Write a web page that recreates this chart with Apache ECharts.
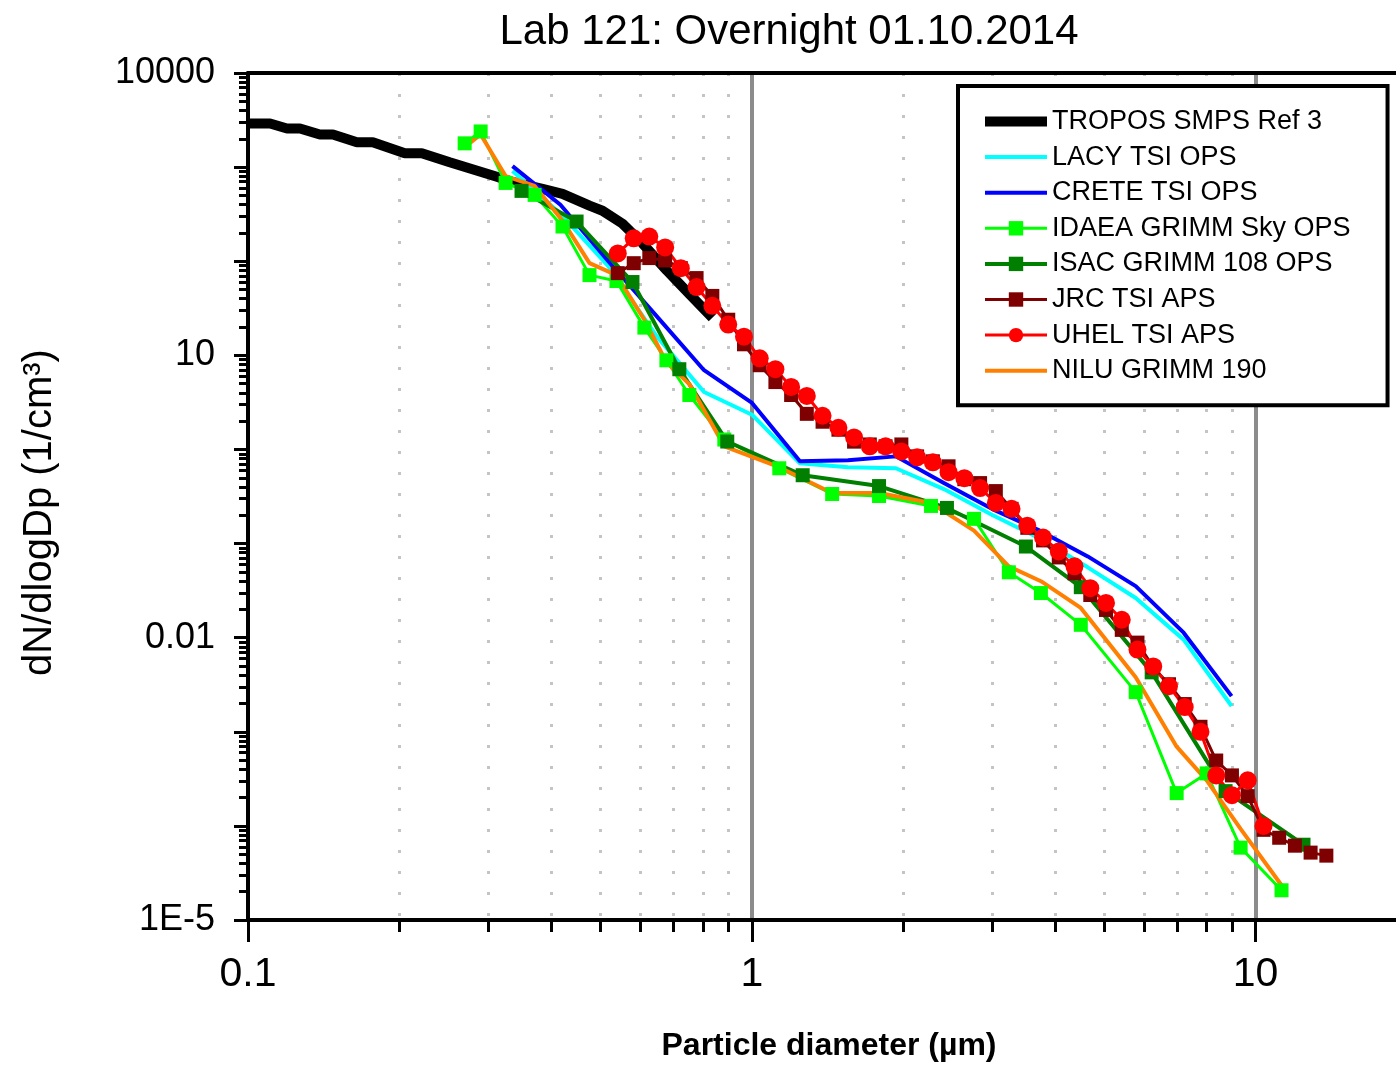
<!DOCTYPE html>
<html>
<head>
<meta charset="utf-8">
<script src="https://cdn.jsdelivr.net/npm/echarts@6/dist/echarts.min.js"></script>
<style>
html,body{margin:0;padding:0;background:#fff;}
#chart{width:1396px;height:1067px;}
</style>
</head>
<body>
<div id="chart"></div>
<script>
// ---- data ----
const seriesNames = ['TROPOS SMPS Ref 3','LACY TSI OPS','CRETE TSI OPS','IDAEA GRIMM Sky OPS','ISAC GRIMM 108 OPS','JRC TSI APS','UHEL TSI APS','NILU GRIMM 190'];

const smpsX = [0.1, 0.1106, 0.1195, 0.1268, 0.1389, 0.1474, 0.1645, 0.1769, 0.2048, 0.2213, 0.2514, 0.3130, 0.3352, 0.3843, 0.4210, 0.4763, 0.5054, 0.5537, 0.6067, 0.6769, 0.7517, 0.8350];
const smpsY = [2904, 2904, 2574, 2574, 2225, 2225, 1834, 1834, 1404, 1404, 1129, 785, 695, 587, 520, 389, 344, 251, 155, 80.4, 44.9, 25.1];

const tsiOpsX = [0.335, 0.417, 0.519, 0.646, 0.804, 1.001, 1.246, 1.552, 1.932, 2.406, 2.996, 3.730, 4.644, 5.782, 7.198, 8.962];
const lacyY  = [908, 320, 88.6, 16.2, 4.08, 2.34, 0.712, 0.647, 0.631, 0.379, 0.202, 0.113, 0.0559, 0.0264, 0.00953, 0.00188];
const creteY = [1024, 398, 100, 26.4, 6.95, 3.12, 0.748, 0.766, 0.844, 0.439, 0.234, 0.137, 0.0730, 0.0353, 0.0113, 0.00239];

const grimmX = [0.2692, 0.2896, 0.3246, 0.3706, 0.4210, 0.4763, 0.5387, 0.6121, 0.6769, 0.7517, 0.8820, 1.134, 1.444, 1.789, 2.269, 2.761, 3.238, 3.749, 4.499, 5.782, 6.972, 7.996, 9.339, 11.26];
const idaeaY = [1789, 2392, 679, 507, 234, 71.2, 61.6, 19.7, 8.86, 3.79, 1.274, 0.631, 0.336, 0.320, 0.251, 0.183, 0.0495, 0.0298, 0.0137, 0.00264, 2.23e-4, 3.61e-4, 5.87e-5, 2.07e-5];
const niluY  = [1623, 2225, 804, 631, 270, 95.3, 71.2, 23.9, 8.44, 4.95, 1.08, 0.647, 0.344, 0.344, 0.270, 0.137, 0.0573, 0.0398, 0.0207, 0.00379, 6.95e-4, 3.05e-4, 9.30e-5, 2.34e-5];

const isacX = [0.3491, 0.4490, 0.5796, 0.7181, 0.8940, 1.262, 1.789, 2.440, 3.500, 4.499, 6.220, 8.719, 12.45];
const isacY = [559, 264, 60.1, 7.12, 1.214, 0.532, 0.408, 0.239, 0.0930, 0.0344, 0.00428, 2.34e-4, 6.31e-5];

const apsX = [0.542, 0.583, 0.626, 0.673, 0.723, 0.777, 0.835, 0.898, 0.965, 1.037, 1.114, 1.197, 1.286, 1.382, 1.486, 1.596, 1.715, 1.843, 1.981, 2.129, 2.288, 2.458, 2.642, 2.839, 3.051, 3.278, 3.523, 3.786, 4.068, 4.371, 4.698, 5.048, 5.425, 5.829, 6.264, 6.732, 7.234, 7.774, 8.354, 8.977, 9.647, 10.37, 11.14, 11.97, 12.86, 13.82];
const jrcY = [74.7, 95.3, 108, 102, 84.4, 66.2, 42.8, 23.9, 13.1, 7.85, 5.20, 3.79, 2.39, 1.97, 1.62, 1.21, 1.13, 1.08, 1.13, 0.844, 0.748, 0.662, 0.483, 0.439, 0.361, 0.234, 0.147, 0.108, 0.0712, 0.0483, 0.0284, 0.0197, 0.0121, 0.00886, 0.00483, 0.00320, 0.00197, 0.00113, 4.95e-4, 3.44e-4, 2.07e-4, 9.08e-5, 7.48e-5, 6.16e-5, 5.20e-5, 4.83e-5];
const uhelY = [121, 175, 183, 140, 84.4, 53.2, 33.6, 21.2, 15.8, 9.30, 7.12, 4.61, 3.70, 2.28, 1.70, 1.34, 1.08, 1.08, 0.953, 0.824, 0.730, 0.573, 0.495, 0.389, 0.270, 0.234, 0.155, 0.116, 0.0824, 0.0573, 0.0336, 0.0234, 0.0155, 0.00748, 0.00495, 0.00305, 0.00183, 0.00100, 3.44e-4, 2.12e-4, 3.05e-4, 1.00e-4];

// axis ticks and labels
const xMajorTicks = [0.1, 1, 10];
const xTickLabels = ['0.1', '1', '10'];
const xMinorTicks = [0.2, 0.3, 0.4, 0.5, 0.6, 0.7, 0.8, 0.9, 2, 3, 4, 5, 6, 7, 8, 9];
const yMajorTicks = [1e-5, 1e-4, 1e-3, 0.01, 0.1, 1, 10, 100, 1000, 10000];
const yLabelValues = [1e-5, 0.01, 10, 10000];
const yTickLabels = ['1E-5', '0.01', '10', '10000'];
const yMinorTicks = [];
[1e-5, 1e-4, 1e-3, 0.01, 0.1, 1, 10, 100, 1000].forEach(d => { for (let k = 2; k <= 9; k++) yMinorTicks.push(+(d * k).toPrecision(3)); });

const zip = (xs, ys) => ys.map((y, i) => [xs[i], y]);
function nearestLabel(v, vals, labels) {
  let best = 0, bd = Infinity;
  vals.forEach((t, i) => { const d = Math.abs(Math.log10(v) - Math.log10(t)); if (d < bd) { bd = d; best = i; } });
  return labels[best];
}

const FONT = 'Liberation Sans, Arial, sans-serif';
const X_MIN = 0.1, X_MAX = 19, Y_MIN = 1e-5, Y_MAX = 1e4;

const chart = echarts.init(document.getElementById('chart'), null, { renderer: 'canvas' });

const styles = [
  { color: '#000000', width: 10 },
  { color: '#00ffff', width: 4 },
  { color: '#0000ff', width: 4 },
  { color: '#00ff00', width: 3, symbol: 'rect', size: 14 },
  { color: '#007f00', width: 4, symbol: 'rect', size: 14 },
  { color: '#7f0000', width: 3, symbol: 'rect', size: 14 },
  { color: '#ff0000', width: 3, symbol: 'circle', size: 18 },
  { color: '#ff7f00', width: 4 }
];
const seriesData = [
  zip(smpsX, smpsY), zip(tsiOpsX, lacyY), zip(tsiOpsX, creteY), zip(grimmX, idaeaY),
  zip(isacX, isacY), zip(apsX, jrcY), zip(apsX, uhelY), zip(grimmX, niluY)
];

const series = seriesNames.map((name, i) => {
  const s = styles[i];
  return {
    name, type: 'line', data: seriesData[i],
    xAxisIndex: 0, yAxisIndex: 0,
    symbol: s.symbol || 'none', symbolSize: s.size || 0,
    showSymbol: !!s.symbol,
    lineStyle: { color: s.color, width: s.width },
    itemStyle: { color: s.color, borderWidth: 0 },
    emphasis: { disabled: true },
    animation: false,
    clip: true
  };
});

const legendData = seriesNames.map((name, i) => {
  const s = styles[i];
  return {
    name,
    lineStyle: { color: s.color, width: s.width },
    itemStyle: s.symbol ? { color: s.color, borderWidth: 0 } : { color: s.color, opacity: 0, borderWidth: 0 }
  };
});

const option = {
  animation: false,
  backgroundColor: '#fff',
  title: {
    text: 'Lab 121: Overnight 01.10.2014',
    left: 784, top: 6, textAlign: 'center',
    textStyle: { fontFamily: FONT, fontSize: 42, fontWeight: 'normal', color: '#000' }
  },
  grid: { left: 248, top: 73, width: 1148, height: 855, containLabel: false },
  legend: {
    data: legendData,
    orient: 'vertical',
    left: 958, top: 86,
    padding: [22, 37, 21, 22],
    itemGap: 8.6,
    itemWidth: 62, itemHeight: 18,
    backgroundColor: '#fff',
    borderColor: '#000', borderWidth: 4, borderRadius: 0,
    selectedMode: false,
    textStyle: { fontFamily: FONT, fontSize: 27, color: '#000', padding: [0, 0, 0, 0] }
  },
  xAxis: [
    {
      type: 'log', logBase: 10, min: X_MIN, max: X_MAX, position: 'bottom',
      name: 'Particle diameter (\u00b5m)', nameLocation: 'middle', nameGap: 110,
      nameTextStyle: { fontFamily: FONT, fontSize: 32, fontWeight: 'bold', color: '#000', padding: [0, 0, 0, 14] },
      axisLine: { show: true, onZero: false, lineStyle: { color: '#000', width: 4 } },
      axisTick: { show: true, customValues: xMajorTicks, length: 22, lineStyle: { color: '#000', width: 3 } },
      axisLabel: {
        show: true, customValues: xMajorTicks, margin: 34,
        fontFamily: FONT, fontSize: 41, color: '#000',
        formatter: v => nearestLabel(v, xMajorTicks, xTickLabels)
      },
      splitLine: { show: true, showMinLine: false, showMaxLine: true, lineStyle: { color: '#8c8c8c', width: 4, type: 'solid' } },
      minorTick: { show: false }, minorSplitLine: { show: false }
    },
    {
      type: 'log', logBase: 10, min: X_MIN, max: X_MAX, position: 'bottom',
      axisLine: { show: false, onZero: false },
      axisTick: { show: true, customValues: xMinorTicks, length: 12, lineStyle: { color: '#000', width: 3 } },
      axisLabel: { show: false },
      splitLine: { show: true, showMinLine: true, showMaxLine: true, lineStyle: { color: '#c4c4c4', width: 3, type: [3, 18] } }
    },
    {
      type: 'log', logBase: 10, min: X_MIN, max: X_MAX, position: 'top',
      axisLine: { show: true, onZero: false, lineStyle: { color: '#000', width: 4 } },
      axisTick: { show: false }, axisLabel: { show: false }, splitLine: { show: false }
    }
  ],
  yAxis: [
    {
      type: 'log', logBase: 10, min: Y_MIN, max: Y_MAX, position: 'left',
      name: 'dN/dlogDp (1/cm\u00b3)', nameLocation: 'middle', nameGap: 188, nameRotate: 90,
      nameTextStyle: { fontFamily: FONT, fontSize: 40, color: '#000', padding: [0, 32, 0, 0] },
      axisLine: { show: true, onZero: false, lineStyle: { color: '#000', width: 4 } },
      axisTick: { show: true, customValues: yMajorTicks, length: 14, lineStyle: { color: '#000', width: 3 } },
      axisLabel: {
        show: true, customValues: yLabelValues, margin: 33,
        fontFamily: FONT, fontSize: 36, color: '#000',
        formatter: v => nearestLabel(v, yLabelValues, yTickLabels)
      },
      splitLine: { show: false }
    },
    {
      type: 'log', logBase: 10, min: Y_MIN, max: Y_MAX, position: 'left',
      axisLine: { show: false, onZero: false },
      axisTick: { show: true, customValues: yMinorTicks, length: 9, lineStyle: { color: '#000', width: 3 } },
      axisLabel: { show: false }, splitLine: { show: false }
    }
  ],
  series
};
chart.setOption(option);
</script>
</body>
</html>
